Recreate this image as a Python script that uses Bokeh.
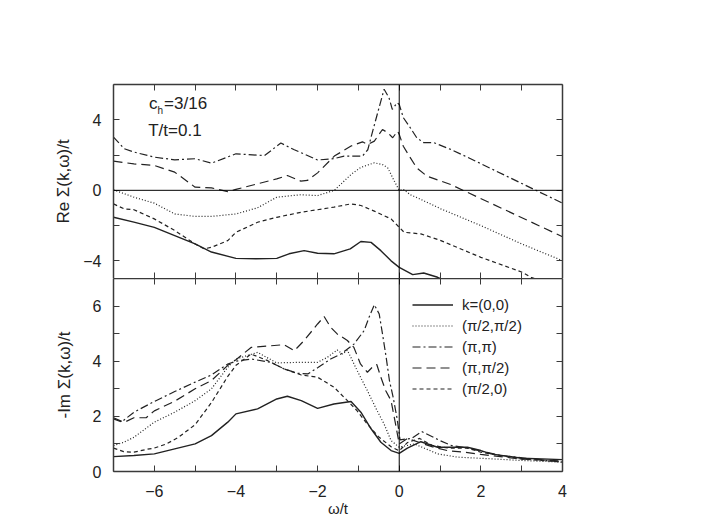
from bokeh.plotting import figure
from bokeh.models import Range1d, FixedTicker, LinearAxis, Span, Legend, LegendItem, Label
from bokeh.layouts import column
from bokeh.embed import file_html
from bokeh.resources import INLINE

# ---------------- data ----------------
x_ticks = [-7, -6, -5, -4, -3, -2, -1, 0, 1, 2, 3, 4]
x_tick_labels = {-6: "\u22126", -4: "\u22124", -2: "\u22122", 0: "0", 2: "2", 4: "4"}
re_ticks = [-4, -2, 0, 2, 4]
re_tick_labels = {-4: "\u22124", 0: "0", 4: "4"}
im_ticks = [0, 1, 2, 3, 4, 5, 6]
im_tick_labels = {0: "0", 2: "2", 4: "4", 6: "6"}

labels = ["k=(0,0)", "(\u03c0/2,\u03c0/2)", "(\u03c0,\u03c0)", "(\u03c0,\u03c0/2)", "(\u03c0/2,0)"]

# Re Sigma / t
re_x_00 = [-7, -6.5, -6, -5.5, -5, -4.6, -4, -3.5, -3, -2.7, -2.33, -2, -1.6, -1.2, -0.94, -0.69, -0.45, -0.2, 0, 0.33, 0.6, 0.94, 1.2, 2, 3, 4]
re_y_00 = [-1.53, -1.8, -2.1, -2.57, -3.04, -3.5, -3.86, -3.88, -3.86, -3.6, -3.42, -3.57, -3.6, -3.32, -2.9, -2.95, -3.42, -4.0, -4.37, -4.78, -4.69, -4.93, -5.2, -5.8, -6.4, -7.0]

re_x_pp2 = [-7, -6.5, -6, -5.5, -5, -4.6, -4, -3.47, -3, -2.41, -2, -1.59, -1.18, -0.94, -0.61, -0.4, -0.28, -0.12, 0, 0.1, 0.27, 0.45, 1.02, 2, 3, 4]
re_y_pp2 = [0.03, -0.39, -0.73, -1.34, -1.48, -1.48, -1.34, -0.99, -0.39, -0.25, -0.3, 0.0, 0.9, 1.3, 1.56, 1.45, 1.27, 0.52, 0.0, 0.06, -0.25, -0.43, -1.05, -2.0, -3.04, -3.99]

re_x_pp = [-7, -6.74, -6.5, -6, -5.5, -5, -4.6, -4, -3.3, -2.9, -2.57, -2.0, -1.59, -1.35, -0.9, -0.77, -0.65, -0.45, -0.37, -0.25, -0.17, -0.05, 0, 0.1, 0.27, 0.43, 0.6, 0.85, 1.26, 1.67, 4]
re_y_pp = [3.02, 2.36, 2.17, 1.88, 1.73, 1.79, 1.54, 2.07, 1.97, 2.68, 2.3, 1.72, 1.8, 1.94, 1.94, 2.3, 3.36, 5.06, 5.73, 5.25, 4.59, 4.97, 4.87, 4.12, 3.55, 2.98, 2.7, 2.7, 2.32, 1.88, -0.73]

re_x_pp2b = [-7, -6.5, -6, -5.5, -5, -4.6, -4.2, -4, -3.47, -3, -2.74, -2.41, -2.25, -2.0, -1.59, -1.18, -0.9, -0.77, -0.61, -0.41, -0.28, -0.16, -0.04, 0, 0.1, 0.27, 0.43, 0.68, 1.26, 4]
re_y_pp2b = [1.65, 1.5, 1.41, 1.03, 0.18, 0.14, -0.07, 0.05, 0.37, 0.65, 0.84, 0.52, 0.56, 0.99, 1.94, 2.51, 2.75, 2.6, 2.79, 3.45, 3.26, 2.98, 3.36, 3.17, 2.5, 1.85, 1.27, 0.8, 0.33, -2.63]

re_x_p20 = [-7, -6.74, -6.5, -6, -5.5, -5, -4.78, -4.6, -4.2, -4, -3.47, -3, -2.4, -2, -1.6, -1.18, -0.94, -0.61, -0.2, 0, 0.12, 0.53, 1.02, 2, 3.02, 3.23, 4]
re_y_p20 = [-0.77, -1.05, -1.1, -1.62, -2.28, -3.04, -3.32, -3.23, -2.85, -2.38, -1.81, -1.53, -1.24, -1.1, -0.95, -0.77, -0.86, -1.18, -1.62, -2.1, -2.38, -2.47, -2.85, -3.8, -4.65, -4.93, -5.6]

# -Im Sigma / t
im_x_00 = [-7, -6.5, -6, -5.5, -5, -4.6, -4.2, -4, -3.47, -3, -2.74, -2.4, -2, -1.6, -1.18, -0.94, -0.69, -0.45, -0.2, 0, 0.2, 0.53, 0.94, 1.67, 2, 2.25, 3, 4]
im_y_00 = [0.54, 0.58, 0.64, 0.82, 1.0, 1.3, 1.79, 2.09, 2.27, 2.63, 2.73, 2.57, 2.29, 2.45, 2.54, 2.15, 1.55, 1.06, 0.76, 0.66, 0.85, 1.08, 0.88, 0.88, 0.76, 0.64, 0.48, 0.43]

im_x_pp2 = [-7, -6.75, -6.5, -6, -5.5, -5, -4.6, -4.2, -4, -3.47, -3, -2.41, -2, -1.76, -1.52, -1.39, -1.27, -1.03, -0.78, -0.54, -0.37, -0.2, 0, 0.37, 0.94, 1.43, 2.25, 3, 4]
im_y_pp2 = [0.94, 1.06, 1.24, 1.79, 2.15, 2.57, 3.0, 3.78, 4.08, 4.32, 3.94, 3.96, 3.96, 4.14, 4.41, 4.26, 4.4, 3.66, 2.93, 2.2, 1.72, 1.12, 0.88, 1.0, 0.64, 0.52, 0.46, 0.4, 0.34]

im_x_pp = [-7, -6.8, -6.5, -6, -5.5, -5, -4.6, -4.2, -4, -3.63, -3.15, -2.82, -2.49, -2.24, -2.0, -1.68, -1.43, -1.11, -0.86, -0.74, -0.61, -0.49, -0.41, -0.32, -0.24, -0.15, -0.05, 0.02, 0.3, 0.55, 1.0, 1.27, 1.67, 2.49, 4]
im_y_pp = [1.91, 1.8, 2.15, 2.54, 2.9, 3.24, 3.5, 3.9, 4.0, 4.08, 3.96, 3.72, 3.56, 3.54, 3.76, 4.08, 4.26, 4.62, 5.11, 5.59, 6.05, 5.71, 4.99, 4.14, 3.3, 2.7, 1.9, 1.15, 1.2, 1.45, 1.12, 0.95, 0.85, 0.58, 0.34]

im_x_pp2b = [-7, -6.74, -6.5, -6.2, -6, -5.5, -5, -4.6, -4.2, -4, -3.63, -3.15, -2.82, -2.57, -2.33, -2.0, -1.84, -1.68, -1.52, -1.27, -1.11, -0.95, -0.78, -0.66, -0.55, -0.45, -0.33, -0.2, -0.1, 0, 0.2, 0.5, 0.8, 1.2, 1.6, 2, 3, 4]
im_y_pp2b = [1.95, 1.78, 1.95, 1.95, 2.2, 2.55, 3.0, 3.3, 3.85, 4.05, 4.5, 4.56, 4.6, 4.38, 4.75, 5.35, 5.62, 5.23, 4.99, 4.75, 4.5, 3.9, 3.6, 3.78, 3.88, 3.42, 2.93, 2.57, 1.8, 1.0, 1.2, 1.05, 0.9, 0.75, 0.7, 0.62, 0.45, 0.38]

im_x_p20 = [-7, -6.75, -6.5, -6.2, -6, -5.7, -5.4, -5, -4.6, -4.2, -4, -3.63, -3.22, -2.82, -2.4, -2.0, -1.6, -1.27, -1.03, -0.8, -0.5, -0.2, 0, 0.2, 0.5, 0.8, 1.2, 1.67, 2, 3, 4]
im_y_p20 = [0.85, 0.72, 0.7, 0.8, 0.85, 1.0, 1.25, 1.7, 2.5, 3.45, 3.85, 4.26, 4.02, 3.72, 3.5, 3.42, 3.06, 2.57, 2.2, 1.75, 1.25, 0.9, 0.75, 1.05, 1.2, 0.95, 0.85, 0.85, 0.7, 0.45, 0.35]

# ---------------- styling ----------------
FONT = "Liberation Sans"
INK = "#222222"
FRAME = "#3a3a3a"
W = 690
dashes = ["solid", "1 2", "8 3 2 3", "9 5", "4 3"]
widths = [1.4, 1.2, 1.2, 1.2, 1.2]

xr = Range1d(-7, 4)


def style_axis(ax, ticks, overrides=None, font_size="16px", line=True):
    ax.ticker = FixedTicker(ticks=ticks, minor_ticks=[])
    ax.major_tick_in = 6
    ax.major_tick_out = 0
    ax.minor_tick_in = 0
    ax.minor_tick_out = 0
    if line:
        ax.axis_line_color = FRAME
        ax.axis_line_width = 1.5
    else:
        ax.axis_line_color = None
    ax.major_tick_line_color = FRAME
    ax.major_tick_line_width = 1
    if overrides is None:
        ax.major_label_text_font_size = "0px"
        ax.major_label_standoff = 0
        ax.major_label_text_alpha = 0
    else:
        ax.major_label_overrides = {t: overrides.get(t, "") for t in ticks}
        ax.major_label_text_font = FONT
        ax.major_label_text_font_size = font_size
        ax.major_label_text_color = INK


def base_fig(height, yr, btop, bbottom):
    p = figure(width=W, height=height, x_range=xr, y_range=Range1d(*yr),
               output_backend="svg", toolbar_location=None,
               min_border_left=113, min_border_right=W - 113 - 449,
               min_border_top=btop, min_border_bottom=bbottom)
    p.grid.visible = False
    p.outline_line_color = None
    p.background_fill_color = "white"
    p.border_fill_color = "white"
    p.add_layout(Span(location=0, dimension="height", line_color="black", line_width=1))
    return p


def ylabel(ax, text, standoff):
    ax.axis_label = text
    ax.axis_label_text_font = FONT
    ax.axis_label_text_font_size = "17px"
    ax.axis_label_text_font_style = "normal"
    ax.axis_label_text_color = INK
    ax.axis_label_standoff = standoff


# ---- top panel: Re Sigma ----
p1 = base_fig(278, (-5, 6), 84, 0)
style_axis(p1.xaxis[0], x_ticks, None, line=False)
style_axis(p1.yaxis[0], re_ticks, re_tick_labels)
p1.yaxis[0].major_label_standoff = 12
ylabel(p1.yaxis[0], "Re \u03a3(k,\u03c9)/t", 7)
ra = LinearAxis(); style_axis(ra, re_ticks, None); p1.add_layout(ra, "right")
ta = LinearAxis(); style_axis(ta, x_ticks, None); p1.add_layout(ta, "above")
p1.add_layout(Span(location=0, dimension="width", line_color="black", line_width=1))

re_series = [(re_x_00, re_y_00), (re_x_pp2, re_y_pp2), (re_x_pp, re_y_pp),
             (re_x_pp2b, re_y_pp2b), (re_x_p20, re_y_p20)]
for (xs, ys), d, w in zip(re_series, dashes, widths):
    p1.line(xs, ys, line_color=INK, line_width=w, line_dash=d)

p1.add_layout(Label(x=-6.13, y=4.93, text="c", text_font=FONT, text_font_size="17px",
                    text_baseline="middle", text_align="left", text_color=INK))
p1.add_layout(Label(x=-5.92, y=4.55, text="h", text_font=FONT, text_font_size="10px",
                    text_baseline="middle", text_align="left", text_color=INK))
p1.add_layout(Label(x=-5.76, y=4.93, text="=3/16", text_font=FONT, text_font_size="17px",
                    text_baseline="middle", text_align="left", text_color=INK))
p1.add_layout(Label(x=-6.15, y=3.4, text="T/t=0.1", text_font=FONT, text_font_size="17px",
                    text_baseline="middle", text_align="left", text_color=INK))

# ---- bottom panel: -Im Sigma ----
p2 = base_fig(241, (0, 7), 0, 48)
style_axis(p2.xaxis[0], x_ticks, x_tick_labels)
p2.xaxis[0].major_label_standoff = 13
p2.xaxis[0].axis_label = "\u03c9/t"
p2.xaxis[0].axis_label_text_font = FONT
p2.xaxis[0].axis_label_text_font_size = "15px"
p2.xaxis[0].axis_label_text_font_style = "normal"
p2.xaxis[0].axis_label_text_color = INK
p2.xaxis[0].axis_label_standoff = 0
style_axis(p2.yaxis[0], im_ticks, im_tick_labels)
p2.yaxis[0].major_label_standoff = 12
ylabel(p2.yaxis[0], "-Im \u03a3(k,\u03c9)/t", 16)
ra2 = LinearAxis(); style_axis(ra2, im_ticks, None); p2.add_layout(ra2, "right")
ta2 = LinearAxis(); style_axis(ta2, x_ticks, None); p2.add_layout(ta2, "above")

im_series = [(im_x_00, im_y_00), (im_x_pp2, im_y_pp2), (im_x_pp, im_y_pp),
             (im_x_pp2b, im_y_pp2b), (im_x_p20, im_y_p20)]
items = []
for (xs, ys), d, w, lab in zip(im_series, dashes, widths, labels):
    r = p2.line(xs, ys, line_color=INK, line_width=w, line_dash=d)
    items.append(LegendItem(label=lab, renderers=[r]))

legend = Legend(items=items, location=(299, 72), glyph_width=41, glyph_height=21,
                label_height=21, spacing=0, padding=0, margin=0, label_standoff=9,
                background_fill_alpha=0, border_line_color=None,
                label_text_font=FONT, label_text_font_size="15px", label_text_color=INK)
p2.add_layout(legend)

layout = column(p1, p2)
open("out.html", "w").write(file_html(layout, INLINE))
